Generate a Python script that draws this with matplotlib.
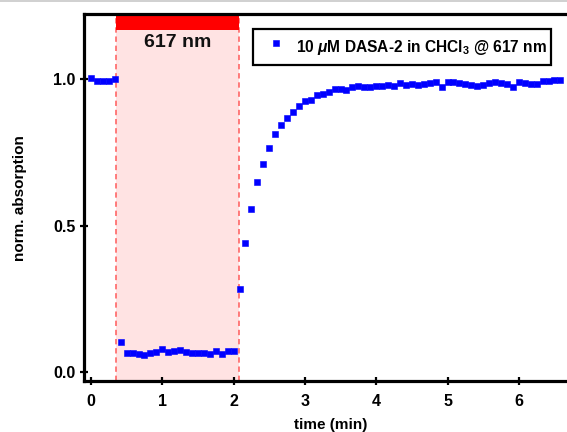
import matplotlib
matplotlib.use("Agg")
import matplotlib.pyplot as plt
from matplotlib.lines import Line2D
import numpy as np

plt.rcParams['font.family'] = ['Liberation Sans', 'DejaVu Sans']
plt.rcParams['font.weight'] = 'bold'
plt.rcParams['mathtext.fontset'] = 'custom'
plt.rcParams['mathtext.rm'] = 'Liberation Sans:bold'
plt.rcParams['mathtext.it'] = 'Liberation Sans:italic:bold'
plt.rcParams['mathtext.bf'] = 'Liberation Sans:bold'

# Sampling interval: one reading every 5 s
dt_min = 5.0 / 60.0

# Normalised absorption at 617 nm, consecutive readings
dark_before = [1.003, 0.995, 0.994, 0.995, 1.000]
irradiated = [0.102, 0.067, 0.065, 0.062, 0.060, 0.065, 0.069, 0.079, 0.069,
              0.072, 0.076, 0.068, 0.067, 0.067, 0.065, 0.062, 0.074, 0.062,
              0.072, 0.074]
recovery = [0.284, 0.443, 0.559, 0.648, 0.711, 0.767, 0.812, 0.844, 0.869,
            0.889, 0.909, 0.927, 0.930, 0.946, 0.950, 0.958, 0.966, 0.968,
            0.962, 0.973, 0.978, 0.975, 0.973, 0.978, 0.978, 0.981, 0.977,
            0.986, 0.981, 0.983, 0.981, 0.984, 0.988, 0.992, 0.975, 0.992,
            0.990, 0.986, 0.984, 0.981, 0.978, 0.981, 0.986, 0.990, 0.986,
            0.983, 0.975, 0.992, 0.988, 0.984, 0.983, 0.994, 0.995, 0.998,
            0.998]

absorption = np.array(dark_before + irradiated + recovery)
time_min = np.arange(len(absorption)) * dt_min

# Irradiation window (min)
light_on, light_off = 0.35, 2.07
light_label = "617 nm"
series_label = r"10 $\mu$M DASA-2 in CHCl$_3$ @ 617 nm"

x_ticks = [0, 1, 2, 3, 4, 5, 6]
y_ticks = [0.0, 0.5, 1.0]
y_tick_labels = ["0.0", "0.5", "1.0"]

W, H = 567, 432
fig = plt.figure(figsize=(W / 100, H / 100), dpi=100)
ax_l, ax_r, ax_t, ax_b = 84, 578, 14.3, 381
ax = fig.add_axes([ax_l / W, 1 - ax_b / H, (ax_r - ax_l) / W, (ax_b - ax_t) / H])

ax.set_xlim(-0.098, 6.83)
ax.set_ylim(-0.0297, 1.222)

# Irradiation band, its dashed edges and the red bar on top
ax.axvspan(light_on, light_off, facecolor='#ffe3e3', edgecolor='none', zorder=0)
for xv in (light_on, light_off):
    ax.axvline(xv, color='#ff5a5a', lw=1.1, ls=(0, (3.5, 2.5)), zorder=1)
ax.axvspan(light_on, light_off, ymin=(1.168 + 0.0297) / (1.222 + 0.0297), ymax=1,
           facecolor='#ff0000', edgecolor='none', zorder=2)
ax.text((light_on + light_off) / 2, 1.126, light_label, ha='center', va='center',
        fontsize=14, fontweight='bold', color='#111111')

ax.plot(time_min, absorption, ls='none', marker='s', ms=4.5, mew=0.4,
        color='#0000ff', mec='#0000ff', label=series_label, zorder=3)

for side in ('left', 'bottom', 'top'):
    ax.spines[side].set_linewidth(2.3)
ax.spines['right'].set_visible(False)

ax.set_xticks(x_ticks)
ax.set_yticks(y_ticks)
ax.set_yticklabels(y_tick_labels)
ax.tick_params(direction='inout', length=6, width=1.6, labelsize=11.5, pad=3)
ax.tick_params(axis='x', pad=6)
ax.tick_params(which='both', top=False, right=False)

ax.set_xlabel("time (min)", fontsize=11, fontweight='bold')
ax.set_ylabel("norm. absorption", fontsize=11, fontweight='bold')
ax.xaxis.set_label_coords(0.5, -0.102)
ax.yaxis.set_label_coords(-0.115, 0.5)

leg = ax.legend(loc='upper left', bbox_to_anchor=(0.342, 0.959), borderaxespad=0,
                frameon=True, fancybox=False, framealpha=1, edgecolor='black',
                prop={'size': 11.2, 'weight': 'bold'}, handlelength=2.4,
                handleheight=2.4, handletextpad=0.12, borderpad=0.25,
                markerscale=1.0)
leg.get_frame().set_linewidth(1.6)

# thin grey border line along the top edge
fig.add_artist(Line2D([0, 1], [1 - 0.5 / H, 1 - 0.5 / H], color='#c8c8c8', lw=1.2,
                      transform=fig.transFigure))

fig.savefig("out.png", dpi=100)
